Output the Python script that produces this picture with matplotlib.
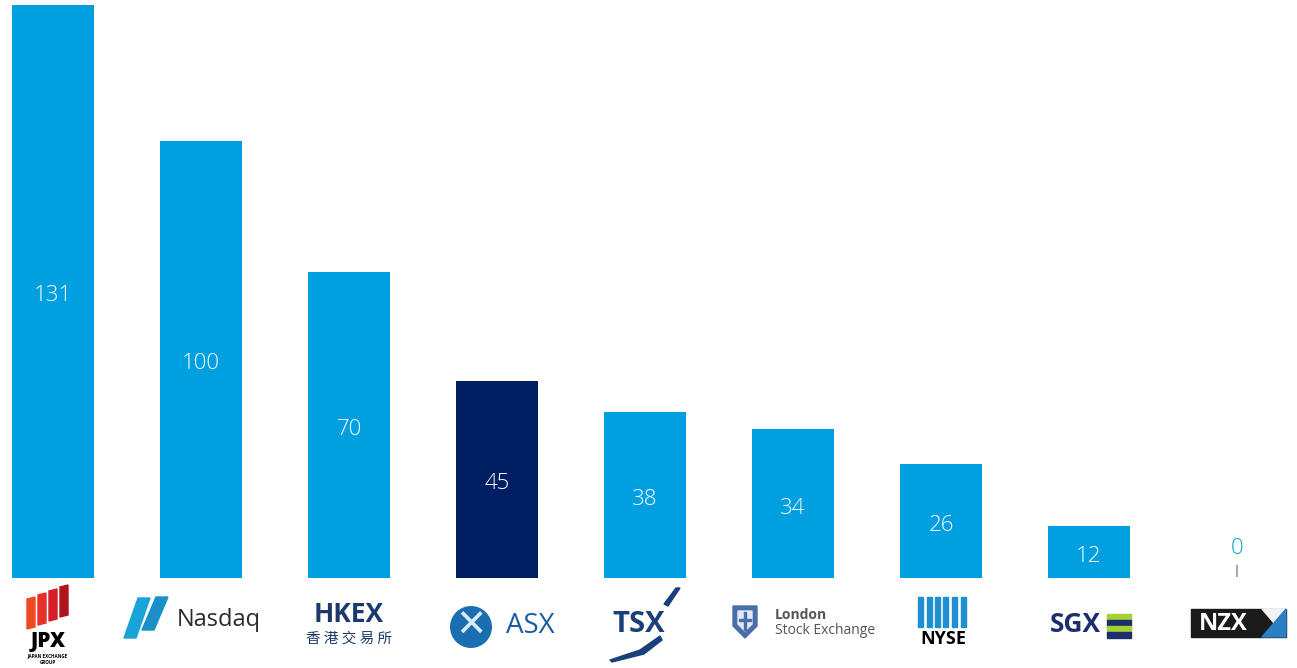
import matplotlib
matplotlib.use("Agg")
import matplotlib.pyplot as plt

plt.rcParams['font.family'] = ['Open Sans', 'Noto Sans CJK SC', 'DejaVu Sans']

exchanges = ["JPX", "Nasdaq", "HKEX", "ASX", "TSX", "LSE", "NYSE", "SGX", "NZX"]
values = [131, 100, 70, 45, 38, 34, 26, 12, 0]
highlight = "ASX"

light_blue = "#00A0E0"
navy = "#001E62"
colors = [navy if e == highlight else light_blue for e in exchanges]

fig = plt.figure(figsize=(12.97, 6.68), dpi=100)
ax = fig.add_axes([0, 90 / 668, 1, 578 / 668])
x = list(range(len(exchanges)))
bars = ax.bar(x, values, width=0.555, color=colors)
ax.set_xlim(-53 / 148, (1297 - 53) / 148)
ax.set_ylim(0, 578 / 4.374)
ax.axis('off')

for xi, v in zip(x, values):
    if v > 0:
        ax.text(xi, v / 2 - 1.0, str(v), ha='center', va='center', color='white',
                fontsize=16, fontweight='light')
    else:
        ax.text(xi, 6.8, str(v), ha='center', va='center', color=light_blue,
                fontsize=16, fontweight='light')
        ax.plot([xi, xi], [0.5, 2.7], color='#aaaaaa', lw=1.5)

# logo-like labels below the axis
def fx(i):
    return (53 + 148 * i) / 1297

def fy(py):
    return 1 - py / 668

def rect(px, py_top, w, h, c, z=2):
    fig.patches.append(plt.Rectangle((px / 1297, fy(py_top + h)), w / 1297, h / 668,
                                     transform=fig.transFigure, color=c, zorder=z))

def poly(pts, c, z=2):
    fig.patches.append(plt.Polygon([(a / 1297, fy(b)) for a, b in pts], closed=True,
                                   transform=fig.transFigure, color=c, zorder=z))

# JPX
jpx_cols = ["#f04a23", "#e8302a", "#d41f26", "#b0141c"]
for k, c in enumerate(jpx_cols):
    left = 27 + k * 11
    top = 597 - k * 4
    poly([(left, top + 2), (left + 8, top), (left + 8, top + 30), (left, top + 32)], c)
fig.text(48 / 1297, fy(642), "JPX", ha='center', va='center', fontsize=15,
         fontweight='heavy', color='black')
fig.text(48 / 1297, fy(656), "JAPAN EXCHANGE", ha='center', va='center',
         fontsize=3.3, fontweight='bold', color='black')
fig.text(48 / 1297, fy(662), "GROUP", ha='center', va='center',
         fontsize=3.3, fontweight='bold', color='black')

# Nasdaq
poly([(124, 638), (138, 598), (150, 598), (136, 638)], '#1aa3d8')
poly([(142, 630), (156, 597), (168, 597), (154, 630)], '#1a8fc8')
fig.text(219 / 1297, fy(620), "Nasdaq", ha='center', va='center', fontsize=17,
         color='#2b2b2b')

# HKEX
fig.text(fx(2), fy(614), "HKEX", ha='center', va='center', fontsize=19,
         fontweight='bold', color='#1b3a6b')
fig.text(fx(2), fy(639), "香 港 交 易 所", ha='center', va='center', fontsize=10.5,
         color='#1b3a6b', family=['Noto Sans CJK TC', 'DejaVu Sans'])

# ASX
fig.text(471 / 1297, fy(627), "✕", ha='center', va='center', fontsize=27,
         color='#d8ecf8', family='DejaVu Sans',
         bbox=dict(boxstyle='circle,pad=0.08', fc='#1a6fb0', ec='none'))
fig.text(530 / 1297, fy(626), "ASX", ha='center', va='center', fontsize=20,
         color='#1a5e9e')

# TSX
fig.text(639 / 1297, fy(624), "TSX", ha='center', va='center', fontsize=21,
         fontweight='bold', color='#1b3f7a')
poly([(664, 604), (676, 588), (680, 588), (668, 606)], '#1b3f7a')
poly([(610, 660), (640, 650), (660, 636), (662, 640), (644, 654), (612, 662)], '#1b3f7a')

# LSE crest
poly([(733, 606), (757, 606), (757, 626), (745, 638), (733, 626)], '#4a6ea8')
poly([(738, 611), (752, 611), (752, 624), (745, 631), (738, 624)], '#dfe8f3', z=3)
rect(744, 612, 2, 18, '#4a6ea8', z=4)
rect(739, 619, 12, 2, '#4a6ea8', z=4)
fig.text(775 / 1297, fy(615), "London", ha='left', va='center', fontsize=10,
         fontweight='bold', color='#555555')
fig.text(775 / 1297, fy(630), "Stock Exchange", ha='left', va='center', fontsize=10,
         color='#555555')

# NYSE
for k in range(6):
    rect(918 + k * 8.5, 597, 5, 30, '#1e8fd0')
fig.text(fx(6) + 0.002, fy(639), "NYSE", ha='center', va='center', fontsize=13,
         fontweight='bold', color='black')

# SGX
fig.text(1075 / 1297, fy(625), "SGX", ha='center', va='center', fontsize=19,
         fontweight='bold', color='#1b2f6e')
for k, c in enumerate(["#a6d132", "#1b2f6e", "#a6d132", "#1b2f6e"]):
    rect(1107, 614 + k * 6, 24, 6, c)

# NZX
rect(1191, 609, 95, 28, '#1a1a1a')
poly([(1262, 609), (1286, 609), (1274, 623)], '#f2f2f2', z=3)
poly([(1274, 623), (1286, 609), (1286, 637), (1262, 637)], '#2a7fc5', z=3)
fig.text(1223 / 1297, fy(624), "NZX", ha='center', va='center', fontsize=17,
         fontweight='bold', color='white', zorder=4)

fig.savefig("out.png", dpi=100)
